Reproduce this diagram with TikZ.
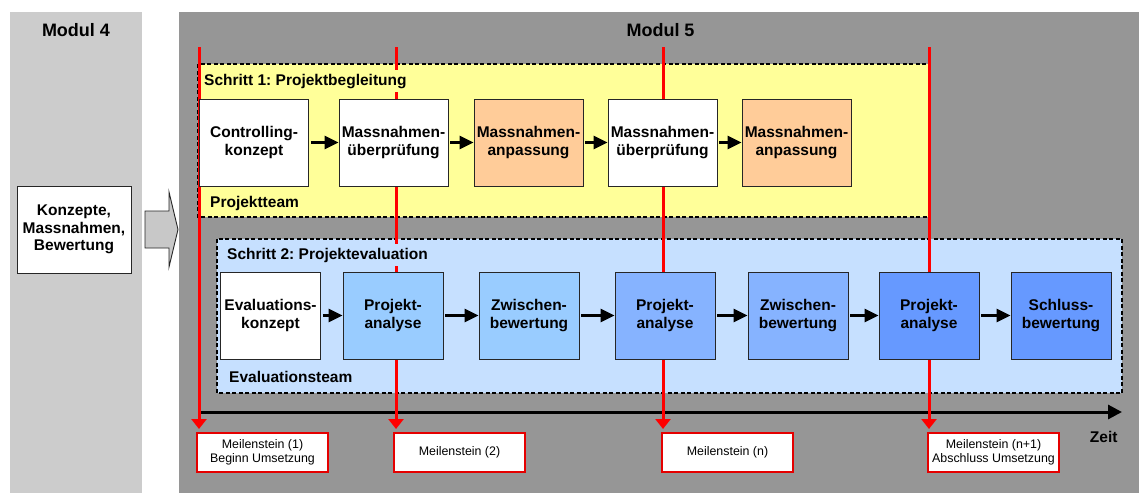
\documentclass[tikz,border=0pt]{standalone}
\usepackage{fontspec}
\setmainfont{Liberation Sans}
\usetikzlibrary{arrows.meta}
\frenchspacing

\definecolor{modfourbg}{HTML}{CCCCCC}
\definecolor{modfivebg}{HTML}{969696}
\definecolor{stepone}{HTML}{FFFF99}
\definecolor{steptwo}{HTML}{C6E0FF}
\definecolor{adjust}{HTML}{FFCC99}
\definecolor{blueA}{HTML}{99CCFF}
\definecolor{blueB}{HTML}{86B3FF}
\definecolor{blueC}{HTML}{6699FF}
\definecolor{shiftarrow}{HTML}{C8C8C8}

\newcommand\boxfont{\fontsize{15.5}{17.6}\selectfont\bfseries}
\newcommand\modfont{\fontsize{18}{20}\selectfont\bfseries}
\newcommand\milefont{\fontsize{12.4}{14.5}\selectfont}

\tikzset{
  proc/.style={draw=black!85, line width=0.9pt, align=center, inner sep=0pt,
    minimum height=87pt, font=\boxfont},
  procA/.style={proc, minimum width=109pt},
  procB/.style={proc, minimum width=100pt},
  flow/.style={line width=3pt, -{Triangle[length=14pt,width=13pt]}, shorten <=2pt},
  region/.style={draw=black, line width=1.4pt, dash pattern=on 4pt off 2.5pt},
  steplabel/.style={font=\boxfont, inner xsep=1pt, inner ysep=4pt},
  milestoneline/.style={red, line width=3pt, -{Triangle[length=10pt,width=15pt]}},
  timeaxis/.style={black, line width=3pt, -{Triangle[length=14pt,width=14pt]}},
  milestone/.style={draw=red!90!black, line width=1.2pt, fill=white, align=center,
    minimum width=131pt, minimum height=39pt, inner sep=0pt, font=\milefont},
}

\begin{document}
\begin{tikzpicture}[x=1pt,y=-1pt]
\useasboundingbox (0,0) rectangle (1139,493);
\fill[white] (0,0) rectangle (1139,493);

% module panels
\fill[modfourbg] (10,12) rectangle (142,493);
\fill[modfivebg] (179,12) rectangle (1139,493);
\node[font=\modfont, anchor=base] (modfour) at (76,36) {Modul 4};
\node[font=\modfont, anchor=base] (modfive) at (660.5,36) {Modul 5};

% input from module 4
\node[proc, fill=white, minimum width=114pt] (input) at (74,229.5)
  {Konzepte,\\Massnahmen,\\Bewertung};
\draw[fill=shiftarrow, draw=black!85, line width=0.9pt]
  (145,211) -- (169,211) -- (169,192) -- (178,229.5) -- (169,267)
  -- (169,248) -- (145,248) -- cycle;

% step regions
\draw[region, fill=stepone] (198,64) rectangle (929,217);
\draw[region, fill=steptwo] (217,239) rectangle (1122,393);

% time axis
\coordinate (tstart) at (199,412);
\coordinate (tend) at (1122,412);
\draw[timeaxis] (tstart) -- (tend);
\node[font=\boxfont, anchor=base east] (zeit) at (1121,442) {Zeit};

% milestone lines
\foreach \i/\x in {1/199,2/396,3/663,4/929} {
  \coordinate (top\i) at (\x,47);
  \coordinate (tip\i) at (\x,429);
  \draw[milestoneline] (top\i) -- (tip\i);
}

% step labels
\node[steplabel, fill=stepone, anchor=base west] (sone) at (203,85) {Schritt 1: Projektbegleitung};
\node[steplabel, anchor=base west] (teamone) at (209,207) {Projektteam};
\node[steplabel, fill=steptwo, anchor=base west] (stwo) at (226,259) {Schritt 2: Projektevaluation};
\node[steplabel, anchor=base west] (teamtwo) at (228,382) {Evaluationsteam};

% step 1: project monitoring
\node[procA, fill=white] (c1) at (254,142.5) {Controlling-\\konzept};
\node[procA, fill=white] (c2) at (393.5,142.5) {Massnahmen-\\überprüfung};
\node[procA, fill=adjust] (c3) at (528.5,142.5) {Massnahmen-\\anpassung};
\node[procA, fill=white] (c4) at (662.5,142.5) {Massnahmen-\\überprüfung};
\node[procA, fill=adjust] (c5) at (796.5,142.5) {Massnahmen-\\anpassung};
\foreach \a/\b in {c1/c2,c2/c3,c3/c4,c4/c5} \draw[flow] (\a.east) -- (\b.west);

% step 2: project evaluation
\node[procB, fill=white] (e1) at (270.5,315.5) {Evaluations-\\konzept};
\node[procB, fill=blueA] (e2) at (393,315.5) {Projekt-\\analyse};
\node[procB, fill=blueA] (e3) at (529,315.5) {Zwischen-\\bewertung};
\node[procB, fill=blueB] (e4) at (665,315.5) {Projekt-\\analyse};
\node[procB, fill=blueB] (e5) at (798,315.5) {Zwischen-\\bewertung};
\node[procB, fill=blueC] (e6) at (929,315.5) {Projekt-\\analyse};
\node[procB, fill=blueC] (e7) at (1061,315.5) {Schluss-\\bewertung};
\foreach \a/\b in {e1/e2,e2/e3,e3/e4,e4/e5,e5/e6,e6/e7} \draw[flow] (\a.east) -- (\b.west);

% milestones
\node[milestone] (ms1) at (262.5,452.5) {Meilenstein (1)\\Beginn Umsetzung};
\node[milestone] (ms2) at (459.5,452.5) {Meilenstein (2)};
\node[milestone] (ms3) at (727.5,452.5) {Meilenstein (n)};
\node[milestone] (ms4) at (993.5,452.5) {Meilenstein (n+1)\\Abschluss Umsetzung};
\end{tikzpicture}
\end{document}
